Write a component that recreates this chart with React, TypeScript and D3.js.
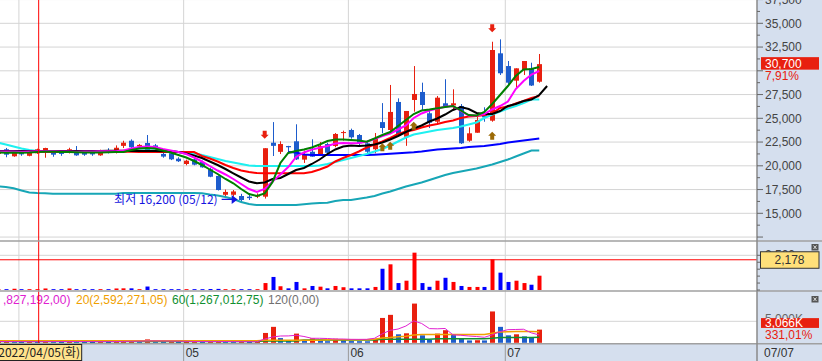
import React from 'react';
import * as d3 from 'd3';

// ---------------- DATA ----------------
const dates = [
  '2022-03-29','2022-03-30','2022-03-31',
  '2022-04-01','2022-04-04','2022-04-05','2022-04-06','2022-04-07','2022-04-08','2022-04-11','2022-04-12','2022-04-13','2022-04-14','2022-04-15','2022-04-18','2022-04-19','2022-04-20','2022-04-21','2022-04-22','2022-04-25','2022-04-26','2022-04-27','2022-04-28','2022-04-29',
  '2022-05-02','2022-05-03','2022-05-04','2022-05-06','2022-05-09','2022-05-10','2022-05-11','2022-05-12','2022-05-13','2022-05-16','2022-05-17','2022-05-18','2022-05-19','2022-05-20','2022-05-23','2022-05-24','2022-05-25','2022-05-26','2022-05-27','2022-05-30','2022-05-31',
  '2022-06-02','2022-06-03','2022-06-07','2022-06-08','2022-06-09','2022-06-10','2022-06-13','2022-06-14','2022-06-15','2022-06-16','2022-06-17','2022-06-20','2022-06-21','2022-06-22','2022-06-23','2022-06-24','2022-06-27','2022-06-28','2022-06-29','2022-06-30',
  '2022-07-01','2022-07-04','2022-07-05','2022-07-06','2022-07-07',
];

const opens = [21250,21740,21000, 21450,21050,21320,21480,21480,21400,21450,21600,21350,21400,21100,21650,21450,22100,22640,22050,22400,22150,21250,21320,20750, 20190,20680,20400,19640,18930,16950,16950,16820,16750,16750,16750,22430,21470,22080,22580,20650,21480,21240,22290,22080,23450, 23770,23240,22370,21740,24600,23770,26720,23060,26930,27770,25530,24640,26580,26360,26300,22640,23480,25350,24750,31840, 30500,28960,30080,30260,28850];
const highs = [21700,21880,21600, 21650,21450,21800,21900,21500,21550,21900,22080,21500,21550,21700,21850,22150,22640,22780,22300,23240,22300,21450,21450,20900, 20650,20850,20550,19800,19000,17500,17450,17050,16950,17100,21850,24600,22580,22100,24370,21600,22790,22500,22430,23450,23700, 23910,23350,22580,23450,26600,28510,27100,25770,30500,28750,25880,27350,29110,28050,26500,24050,25450,26160,33060,33310, 31030,30260,31030,30850,31770];
const lows = [21150,20900,20950, 21050,21000,21250,20850,20950,21050,21300,21050,21050,21050,21050,21300,21300,21870,21870,21900,21600,21700,20850,20600,20400, 20050,20050,19800,18800,17400,16600,16750,16200,16400,16600,16550,21030,21240,21330,20610,20300,20950,21100,21240,21950,22650, 22850,22000,21240,21320,23430,23590,23240,22100,25700,25880,23980,24430,26160,25880,22300,22530,23480,24640,24640,29560, 28400,28160,29560,28400,28750];
const closes = [21600,21170,21450, 21200,21420,21740,21870,21170,21250,21740,21100,21170,21200,21650,21450,21900,22430,21950,22200,21660,21800,20970,20680,20480, 20540,20120,19840,18850,17450,17250,17300,16400,16600,16900,21850,22100,22290,21950,20680,21150,20960,22080,21380,23350,23550, 23000,22370,21480,22850,23980,25670,23350,25770,27560,26400,24540,27170,26220,26580,22370,23420,24820,25100,32190,29740, 28750,30260,31030,28450,30700];

// price moving averages
const maGreen = [21420,21380,21400,21380,21400,21440,21480,21470,21450,21440,21420,21400,21400,21410,21430,21450, 21453,21663,21821,21874,21821,21611,21400,21137,20874,20505,20084,19611,19137,18611,18158,17558,17032,16822,17085,18295,20295,21348,21558,21716,21926,22242,22611,22769,22769,22716,22663,22537,22874,23242,23558,24190,24821,25453,25821,25926,26053,26190,26295,25821,25348,25295,25663,26505,27453,28400,29453,30137,30190,30400];
const maMagenta = [21520,21500,21500,21490,21500,21520,21540,21530,21510,21500,21490,21500,21510,21520,21530,21540, 21611,21821,21979,22032,21979,21768,21611,21453,21242,20874,20453,19979,19505,19084,18611,18085,17558,17242,17558,18347,19084,19874,20927,21400,21700,21900,22084,22347,22400,22369,22400,22537,22821,23137,23400,23821,24242,25032,25505,25821,26032,26221,26295,25768,25295,25295,25453,25926,26295,26768,28084,28926,29611,29979];
const maBlack = [21560,21560,21550,21560,21570,21560,21560,21550,21560,21560,21550,21560,21570,21570,21580,21590,21580,21570,21570,21560,21550,21540,21558, 21453,21295,21084,20821,20453,20084,19663,19211,18768,18347,18158,18242,18610,18716,19137,19558,19769,20190,20663,21242,21716,22032,22137,22084,22137,22242,22453,22769,23137,23558,23926,24242,24663,24979,25400,25874,26190,25979,25558,25453,25453,25769,26295,26505,26821,26979,27453,28400];
const maRed = [21450,21450,21460,21450,21450,21450,21460,21460,21450,21450,21450,21450,21450,21460,21460,21470,21470,21470,21460,21460,21460,21450,21450,21450,21450,21453, 21032,20769,20453,20084,19769,19505,19347,19242,19211,19211,19211,19211,19211,19211,19347,19611,19927,20453,20820,21137,21505,21926,22242,22558,22926,23347,23611,23769,24032,24242,24400,24611,24769,25032,25190,25242,25348,25505,26084,26242,26558,26821,27137,27348];
const maCyan = [22453,22242,22032,21821,21663,21558,21530,21520,21520,21520,21520,21520,21530,21530,21530,21530,21526,21611,21611,21611,21611,21611,21505,21453,21400,21316,21137,20927,20716,20505,20347,20190,20032,19979,19979,19979,19979,19979,19979,19979,19979,20032,20190,20400,20611,20821,21032,21242,21505,21768,22137,22558,22979,23295,23453,23611,23769,23874,23979,24137,24348,24558,25032,25400,25716,26032,26300,26611,26980,26980].slice(0, 70);
const maBlue = [null,null,null,null,null,null,null,null,null,null,null,null,null,null,null,null,null,null,null,null,null,null,null,null,null,null,null,null,null,null,null,null,null,null,null,null,null, 21453,21400,21190,21137,21137,21137,21137,21137,21137,21137,21137,21169,21211,21264,21316,21369,21421,21505,21611,21716,21768,21821,21874,21979,22032,22084,22190,22295,22453,22558,22663,22769,22874];
const maTeal = [17822,17769,17632,17400,17190,17137,17106,17053,17053,17053,17053,17053,17053,17053,17053,17053,17137,17137,17137,17137,17137,17137,17137,17137,17137,17137,17106,16979,16874,16716,16506,16190,15979,15874,15874,15874,15874,15874,15874,15958,16032,16085,16116,16295,16400,16400,16527,16664,16822,17085,17295,17558,17822,18032,18242,18505,18769,19032,19242,19400,19558,19716,19927,20137,20400,20663,20979,21295,21611,21611].slice(0, 70);

// trade value sub pane
const tradeValue = [60,60,90, 60,60,60,110,60,60,110,60,60,60,60,60,110,120,120,60,250,60,60,60,60, 60,60,60,70,80,60,60,60,60,60, 500,940,270,120,580,120,290,240,120,290,200, 120,120,120,220,1530,1850,500,670,2690,500,230,670,880,580,290,220,220,220,2210,1250, 580,670,500,380,1030];
// volume pane (K shares)
const volumeK = [250,280,240, 200,230,210,380,250,200,330,240,200,190,260,180,350,420,450,300,790,350,220,300,200, 210,240,220,310,400,250,230,260,200,220, 2290,3710,1100,550,2140,550,1020,710,380,950,620, 400,380,360,950,5780,6500,1980,2210,9120,1740,710,2140,2930,1900,1020,550,600,550,7290,3710, 1740,1980,1500,1330,3066];
const volMa5 = [300,300,290,280,270,260,280,290,290,300,300,290,280,270,270,290,320,350,380,430,440,420,400,380,340,300,290,280,290,300,280,270,260,250, 880,1350,1580,1600,1750,1470,1050,1050,1000,880,880, 810,800,810,1050,2100,2900,3200,3900,5100,4500,3300,3250,3330,1850,1750,1580,1460,1280,1850,2600, 3050,3100,3150,2300,1827];
const volMa20 = [480,480,480,480,480,480,480,480,480,480,480,480,480,480,480,480,480,480,480,480,480,480,480,480,480,480,480,480,480,480,480,480,480,480, 580,580,580,580,580,580,580,580,700,700,700, 700,700,700,814,1116,1233,1419,1512,1814,1930,1930,1930,1930,1930,1930,1930,1930,1930,2210,2512, 2560,2600,2620,2600,2592];
const volMa60 = [300,300,300,300,300,300,300,300,300,300,300,300,300,300,300,300,300,300,300,300,300,300,300,300,300,300,300,300,300,300,300,300,300,300, 420,420,420,420,420,650,650,650,650,650,650, 650,650,650,650,814,814,814,814,814,814,814,954,954,954,954,954,954,954,1047,1230, 1240,1250,1255,1260,1267];

const sellSignals = [34, 63];
const buySignals = [49, 50, 53, 63];
const priceTicks = [12500, 15000, 17500, 20000, 22500, 25000, 27500, 30000, 32500, 35000, 37500];
const crossIndex = 5;
const crossValue = 2178;
const legendItems = [
  { label: ',827,192,00)', color: '#e020d0', x: 3 },
  { label: '20(2,592,271,05)', color: '#f0a000', x: 76 },
  { label: '60(1,267,012,75)', color: '#109030', x: 172 },
  { label: '120(0,00)', color: '#707070', x: 268 },
];
const volRatioLabel = '331,01%';

// ---------------- STYLE ----------------
const RED = '#e8200f';
const BLUE = '#1d5ccc';
const GRID = '#d4d4d4';
const PANEL = '#d5dfee';
const NUM = "'Liberation Sans', Arial, sans-serif";
const KR = "'Noto Sans CJK KR', 'Noto Sans', sans-serif";

const W = 822, H = 361, PR = 757;

export default function App() {
  const n = dates.length;
  const x = d3.scaleLinear().domain([0, n - 1]).range([-2.04, 539.27]);
  const yP = d3.scaleLinear().domain([12500, 37500]).range([237.05, -0.45]);
  const yA = d3.scaleLinear().domain([0, 2500]).range([290, 255.3]);
  const yB = d3.scaleLinear().domain([0, 5000]).range([342.8, 321.3]);

  const fmt = d3.format(',');
  const monthStarts = dates.map((d, i) => i).filter(i => i > 0 && dates[i].slice(5, 7) !== dates[i - 1].slice(5, 7));
  const gridX = (i: number) => x(i) - 2.6;

  const priceLine = (arr: (number | null)[]) =>
    d3.line<number | null>().defined(v => v != null).x((_, i) => x(i)).y(v => yP(v as number))(arr) || '';
  const volLine = (arr: number[]) =>
    d3.line<number>().x((_, i) => x(i)).y(v => yB(v))(arr) || '';

  const minIdx = d3.minIndex(lows);
  const mmdd = (d: string) => d.slice(5, 7) + '/' + d.slice(8, 10);
  const last = closes[n - 1];
  const prev = closes[n - 2];
  const pct = ((last - prev) / prev * 100).toFixed(2).replace('.', ',') + '%';
  const days = ['일', '월', '화', '수', '목', '금', '토'];
  const cd = dates[crossIndex];
  const cdObj = new Date(cd + 'T00:00:00');
  const crossLabel = cd.replace(/-/g, '/') + '(' + days[cdObj.getDay()] + ')';
  const crossX = x(crossIndex) + 1.5;
  const boxL = crossX - 43, boxR = crossX + 43;

  const minorTicks = d3.range(12500, 37501, 1250);

  const arrowDown = (cx: number, tipY: number) =>
    `M${cx - 2},${tipY - 8}H${cx + 2}V${tipY - 4}H${cx + 4}L${cx},${tipY}L${cx - 4},${tipY - 4}H${cx - 2}Z`;
  const arrowUp = (cx: number, tipY: number) =>
    `M${cx - 2},${tipY + 8}H${cx + 2}V${tipY + 4}H${cx + 4}L${cx},${tipY}L${cx - 4},${tipY + 4}H${cx - 2}Z`;

  const lowX = x(minIdx) - 3.5;
  const lowY = yP(lows[minIdx]) - 2.5;
  const lastY = yP(last);

  return (
    <svg width={W} height={H} style={{ position: 'absolute', left: 0, top: 0, background: '#fff' }}>
      <defs>
        <clipPath id="pp"><rect x={0} y={0} width={PR} height={240.5} /></clipPath>
        <clipPath id="pa"><rect x={0} y={241.5} width={PR} height={49} /></clipPath>
        <clipPath id="pb"><rect x={0} y={291.5} width={PR} height={52} /></clipPath>
      </defs>
      <rect x={0} y={0} width={W} height={H} fill="#fff" />
      <rect x={PR} y={0} width={W - PR} height={H} fill={PANEL} />
      <rect x={0} y={344} width={W} height={H - 344} fill={PANEL} />

      {/* horizontal grid */}
      <g clipPath="url(#pp)">
        {priceTicks.map(t => (
          <line key={t} x1={0} x2={PR} y1={yP(t)} y2={yP(t)} stroke={GRID} strokeWidth={1} />
        ))}
      </g>
      <line x1={0} x2={PR} y1={yA(2500)} y2={yA(2500)} stroke={GRID} />
      <line x1={0} x2={PR} y1={yB(5000)} y2={yB(5000)} stroke={GRID} />

      {/* vertical month grid + date labels */}
      {monthStarts.map(i => {
        const gx = gridX(i);
        const hidden = gx + 2 < boxR && gx + 16 > boxL;
        return (
          <g key={i}>
            <line x1={gx} x2={gx} y1={0} y2={344} stroke={GRID} strokeWidth={1} />
            <line x1={gx} x2={gx} y1={344} y2={H} stroke="#999" strokeWidth={1} />
            {!hidden && <text x={gx + 2} y={357} fontFamily={NUM} fontSize={12} fill="#333">{dates[i].slice(5, 7)}</text>}
          </g>
        );
      })}

      {/* price pane */}
      <g clipPath="url(#pp)">
        {dates.map((d, i) => {
          const up = closes[i] >= opens[i];
          const col = up ? RED : BLUE;
          const cx = Math.round(x(i)) + 0.5;
          const yT = yP(Math.max(opens[i], closes[i]));
          const yBm = yP(Math.min(opens[i], closes[i]));
          return (
            <g key={d}>
              <line x1={cx} x2={cx} y1={yP(highs[i])} y2={yP(lows[i])} stroke={col} strokeWidth={1} />
              <rect x={cx - 2.5} y={yT} width={5} height={Math.max(1, yBm - yT)} fill={col} />
            </g>
          );
        })}
        <path d={priceLine(maTeal)} fill="none" stroke="#17a6b6" strokeWidth={2} />
        <path d={priceLine(maBlue)} fill="none" stroke="#0000ff" strokeWidth={2} />
        <path d={priceLine(maCyan)} fill="none" stroke="#1ef0f0" strokeWidth={2.2} />
        <path d={priceLine(maRed)} fill="none" stroke="#ff0000" strokeWidth={2} />
        <path d={priceLine(maBlack)} fill="none" stroke="#000" strokeWidth={2} />
        <path d={priceLine(maMagenta)} fill="none" stroke="#ff00ff" strokeWidth={2} />
        <path d={priceLine(maGreen)} fill="none" stroke="#008000" strokeWidth={2} />

        {sellSignals.map(i => (
          <path key={'s' + i} d={arrowDown(x(i), yP(highs[i]) - 9.5)} fill={RED} />
        ))}
        {buySignals.map(i => (
          <path key={'b' + i} d={arrowUp(x(i), yP(lows[i]) + 10)} fill="#9c6a06" />
        ))}

        <text x={lowX - 20} y={lowY + 4.5} textAnchor="end" fontFamily={KR} fontSize={12} fill="#1515e0">
          {'최저 ' + fmt(lows[minIdx]) + ' (' + mmdd(dates[minIdx]) + ')'}
        </text>
        <line x1={lowX - 16} x2={lowX - 5} y1={lowY} y2={lowY} stroke="#1515e0" strokeWidth={1.2} />
        <path d={`M${lowX - 6},${lowY - 4.5}L${lowX},${lowY}L${lowX - 6},${lowY + 4.5}Z`} fill="#1515e0" />
      </g>

      {/* trade value pane */}
      <g clipPath="url(#pa)">
        {tradeValue.map((v, i) => (
          <rect key={i} x={Math.round(x(i)) - 1.5} y={yA(v)} width={4} height={yA(0) - yA(v)}
            fill={closes[i] >= opens[i] ? '#ff0000' : '#0000ff'} />
        ))}
        <line x1={0} x2={PR} y1={yA(crossValue)} y2={yA(crossValue)} stroke="#ff0000" strokeWidth={1} />
      </g>

      {/* volume pane */}
      <g clipPath="url(#pb)">
        {volumeK.map((v, i) => (
          <rect key={i} x={Math.round(x(i)) - 2} y={yB(v)} width={5} height={Math.max(1, yB(0) - yB(v))}
            fill={i > 0 && v < volumeK[i - 1] ? BLUE : RED} />
        ))}
        <path d={volLine(volMa60)} fill="none" stroke="#109030" strokeWidth={1.5} />
        <path d={volLine(volMa20)} fill="none" stroke="#f0a000" strokeWidth={1.5} />
        <path d={volLine(volMa5)} fill="none" stroke="#e020d0" strokeWidth={1} />
      </g>
      {legendItems.map((it, k) => (
        <text key={k} x={it.x} y={304} fontFamily={NUM} fontSize={12} fill={it.color}>{it.label}</text>
      ))}

      {/* crosshair vertical */}
      <line x1={crossX} x2={crossX} y1={0} y2={343.5} stroke="#ff0000" strokeWidth={1} />

      {/* separators */}
      <line x1={0} x2={W} y1={241} y2={241} stroke="#a0a0a0" strokeWidth={1.5} />
      <line x1={0} x2={W} y1={291} y2={291} stroke="#a0a0a0" strokeWidth={1.5} />
      <line x1={0} x2={W} y1={343.8} y2={343.8} stroke="#a0a0a0" strokeWidth={1.5} />
      <line x1={PR} x2={PR} y1={0} y2={H} stroke="#8a8a8a" strokeWidth={1.5} />

      {/* right price axis */}
      {minorTicks.map(t => (
        <line key={t} x1={PR} x2={PR + (t % 2500 === 0 ? 6 : 3)} y1={yP(t)} y2={yP(t)} stroke="#666" />
      ))}
      {priceTicks.filter(t => t >= 15000 && Math.abs(yP(t) - lastY) > 12).map(t => (
        <text key={t} x={765} y={yP(t) + 4.2} fontFamily={NUM} fontSize={12} fill="#444">{fmt(t)}</text>
      ))}
      <rect x={761} y={lastY - 7} width={58} height={12.5} fill={RED} />
      <text x={765} y={lastY + 3.8} fontFamily={NUM} fontSize={12} fill="#fff">{fmt(last)}</text>
      <text x={765} y={lastY + 15.5} fontFamily={NUM} fontSize={12} fill={RED}>{pct}</text>

      {/* right trade value axis */}
      {d3.range(0, 2501, 500).map(t => (
        <line key={t} x1={PR} x2={PR + (t === 2500 ? 6 : 3)} y1={yA(t)} y2={yA(t)} stroke="#666" />
      ))}
      <text x={765} y={yA(2500) + 4} fontFamily={NUM} fontSize={12} fill="#444">{fmt(2500)}</text>
      <rect x={760.5} y={yA(crossValue) - 8} width={58.5} height={16.5} fill="#ffe07a" stroke="#333" strokeWidth={1} />
      <text x={789.5} y={yA(crossValue) + 4.3} textAnchor="middle" fontFamily={NUM} fontSize={12} fill="#333">{fmt(crossValue)}</text>
      <rect x={811.5} y={244} width={7} height={6.5} fill="#555" />
      <path d="M813.5,245.5L816.5,249M816.5,245.5L813.5,249" stroke="#fff" strokeWidth={0.8} />

      {/* right volume axis */}
      <text x={765} y={yB(5000) + 1.5} fontFamily={NUM} fontSize={12} fill="#666">{fmt(5000) + 'K'}</text>
      <rect x={761} y={yB(volumeK[n - 1]) - 11.5} width={58} height={9.8} fill={RED} />
      <text x={765} y={yB(volumeK[n - 1]) - 2.5} fontFamily={NUM} fontSize={12} fill="#fff">{fmt(volumeK[n - 1]) + 'K'}</text>
      <text x={765} y={yB(volumeK[n - 1]) + 9} fontFamily={NUM} fontSize={12} fill={RED}>{volRatioLabel}</text>
      <rect x={811.5} y={296} width={7} height={6.5} fill="#555" />
      <path d="M813.5,297.5L816.5,301M816.5,297.5L813.5,301" stroke="#fff" strokeWidth={0.8} />

      {/* crosshair date label */}
      <rect x={boxL} y={344.5} width={86} height={16} fill="#ffe38c" stroke="#222" strokeWidth={1} />
      <text x={crossX + 0.5} y={357} textAnchor="middle" fontFamily={KR} fontSize={12} fill="#222">{crossLabel}</text>

      {/* last date */}
      <text x={764} y={357} fontFamily={NUM} fontSize={12} fill="#333">{mmdd(dates[n - 1])}</text>
    </svg>
  );
}
